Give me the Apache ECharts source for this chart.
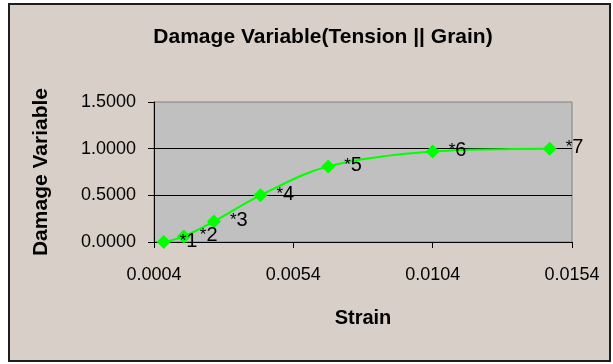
<!DOCTYPE html>
<html>
<head>
<meta charset="utf-8">
<script src="https://cdn.jsdelivr.net/npm/echarts@6/dist/echarts.min.js"></script>
<style>
  html, body { margin: 0; padding: 0; background: #ffffff; }
  #chart { width: 613px; height: 364px; }
</style>
</head>
<body>
<div id="chart"></div>
<script>
// Damage variable measured along the tension-parallel-to-grain test
const strain = [0.00075, 0.00147, 0.00255, 0.00422, 0.00665, 0.0104, 0.0146];
const damage = [0.0, 0.06, 0.22, 0.5, 0.81, 0.97, 1.0];
const pointLabels = ['*1', '*2', '*3', '*4', '*5', '*6', '*7'];
const strainTicks = [0.0004, 0.0054, 0.0104, 0.0154];
const damageTicks = [0, 0.5, 1.0, 1.5];

const FONT = '"Liberation Sans", Arial, sans-serif';

const points = strain.map((x, i) => ({ value: [x, damage[i]], name: pointLabels[i] }));

const chart = echarts.init(document.getElementById('chart'), null, { renderer: 'canvas' });

chart.setOption({
  backgroundColor: '#ffffff',
  animation: false,
  graphic: [{
    type: 'rect',
    z: -10,
    shape: { x: 9, y: 4, width: 601, height: 357 },
    style: { fill: '#D8D0C8', stroke: '#1e1e1e', lineWidth: 2 }
  }],
  title: {
    text: 'Damage Variable(Tension || Grain)',
    left: 318,
    textAlign: 'center',
    top: 22,
    textStyle: { fontFamily: FONT, fontSize: 21, fontWeight: 'bold', color: '#000' }
  },
  grid: {
    left: 154, right: 41, top: 102, bottom: 122,
    show: true,
    backgroundColor: '#C0C0C0',
    borderColor: '#808080',
    borderWidth: 1
  },
  xAxis: {
    type: 'value',
    min: strainTicks[0],
    max: strainTicks[strainTicks.length - 1],
    name: 'Strain',
    nameLocation: 'middle',
    nameGap: 66,
    nameTextStyle: { fontFamily: FONT, fontSize: 20, fontWeight: 'bold', color: '#000' },
    axisLine: { show: true, onZero: false, lineStyle: { color: '#000', width: 1 } },
    axisTick: { show: true, length: 6, customValues: strainTicks, lineStyle: { color: '#000' } },
    axisLabel: {
      customValues: strainTicks,
      margin: 24,
      fontFamily: FONT, fontSize: 18, color: '#000',
      formatter: v => Number(v).toFixed(4)
    },
    splitLine: { show: false }
  },
  yAxis: {
    type: 'value',
    min: damageTicks[0],
    max: damageTicks[damageTicks.length - 1],
    interval: 0.5,
    name: 'Damage Variable',
    nameLocation: 'middle',
    nameGap: 102,
    nameTextStyle: { fontFamily: FONT, fontSize: 21, fontWeight: 'bold', color: '#000' },
    axisLine: { show: true, lineStyle: { color: '#000', width: 1 } },
    axisTick: { show: true, length: 6, lineStyle: { color: '#000' } },
    axisLabel: {
      margin: 18,
      fontFamily: FONT, fontSize: 18, color: '#000',
      formatter: v => Number(v).toFixed(4)
    },
    splitLine: { show: true, showMinLine: false, showMaxLine: false, lineStyle: { color: '#000', width: 1 } }
  },
  series: [{
    type: 'line',
    data: points,
    smooth: 0.35,
    symbol: 'diamond',
    symbolSize: 14,
    lineStyle: { color: '#00FF00', width: 2 },
    itemStyle: { color: '#00FF00' },
    label: {
      show: true,
      position: 'right',
      distance: 9,
      offset: [0, -1],
      formatter: p => '{a|' + p.name.charAt(0) + '}{d|' + p.name.slice(1) + '}',
      rich: {
        a: { fontFamily: FONT, fontSize: 17, color: '#000', verticalAlign: 'middle' },
        d: { fontFamily: FONT, fontSize: 20, color: '#000', verticalAlign: 'middle' }
      }
    }
  }]
});
</script>
</body>
</html>
